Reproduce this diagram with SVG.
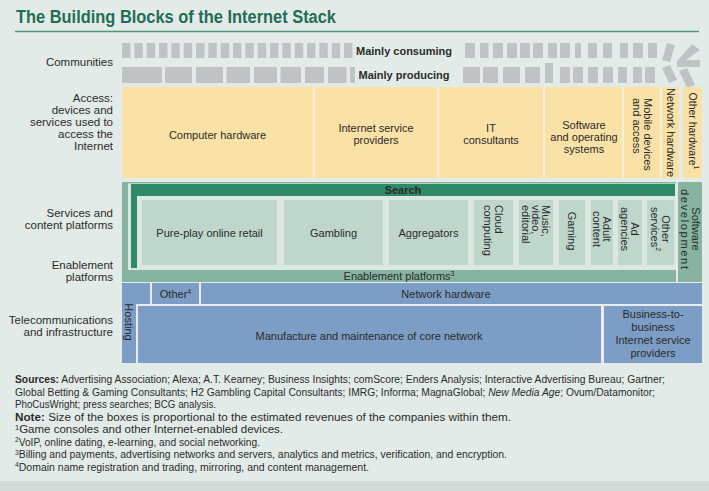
<svg xmlns="http://www.w3.org/2000/svg" width="709" height="491" viewBox="0 0 709 491">
<style>
text{font-family:"Liberation Sans",Arial,sans-serif;fill:#2b2b2b}
.lbl{font-size:11.5px;text-anchor:end}
.bx{font-size:11px;text-anchor:middle}
.bold{font-weight:bold}
.gray{fill:#bfc3c6}
.yel{fill:#fae2a6}
.mg{fill:#86b4a0}
.dg{fill:#2f8a67}
.lg{fill:#bed7ca}
.blue{fill:#7c9dc5}
.fn{font-size:10px}
</style>
<rect width="709" height="491" fill="#e3ebe8"/>
<rect y="481" width="709" height="10" fill="#d2dbd7"/>
<text x="16" y="23" font-size="17.5" font-weight="bold" style="fill:#1f6e55" textLength="320" lengthAdjust="spacingAndGlyphs">The Building Blocks of the Internet Stack</text>
<line x1="15" y1="31.5" x2="699" y2="31.5" stroke="#4f9478" stroke-width="1.5"/>

<g id="labels">
<text class="lbl" x="113" y="66">Communities</text>
<text class="lbl" x="113" y="102">Access:</text>
<text class="lbl" x="113" y="114">devices and</text>
<text class="lbl" x="113" y="126">services used to</text>
<text class="lbl" x="113" y="138">access the</text>
<text class="lbl" x="113" y="150">Internet</text>
<text class="lbl" x="113" y="217">Services and</text>
<text class="lbl" x="113" y="229">content platforms</text>
<text class="lbl" x="113" y="269">Enablement</text>
<text class="lbl" x="113" y="281">platforms</text>
<text class="lbl" x="113" y="324">Telecommunications</text>
<text class="lbl" x="113" y="336">and infrastructure</text>
</g>

<g id="communities-consuming">
<g class="gray">
<rect x="122" y="43" width="8.5" height="15"/><rect x="134.3" y="43" width="8.5" height="15"/><rect x="146.7" y="43" width="8.5" height="15"/><rect x="159" y="43" width="8.5" height="15"/><rect x="171.3" y="43" width="8.5" height="15"/><rect x="183.7" y="43" width="8.5" height="15"/><rect x="196" y="43" width="8.5" height="15"/><rect x="208.3" y="43" width="8.5" height="15"/><rect x="220.7" y="43" width="8.5" height="15"/><rect x="233" y="43" width="8.5" height="15"/><rect x="245.3" y="43" width="8.5" height="15"/><rect x="257.7" y="43" width="8.5" height="15"/><rect x="270" y="43" width="8.5" height="15"/><rect x="282.3" y="43" width="8.5" height="15"/><rect x="294.7" y="43" width="8.5" height="15"/><rect x="307" y="43" width="8.5" height="15"/><rect x="319.3" y="43" width="8.5" height="15"/><rect x="331.7" y="43" width="8.5" height="15"/><rect x="344" y="43" width="8.5" height="15"/>
<rect x="465" y="43" width="10" height="15"/><rect x="480" y="43" width="8.5" height="15"/><rect x="493" y="43" width="10" height="15"/><rect x="507" y="43" width="10" height="15"/><rect x="520" y="43" width="10" height="15"/><rect x="533" y="43" width="10" height="15"/><rect x="548" y="43" width="9" height="15"/><rect x="560" y="43" width="10" height="15"/><rect x="575" y="43" width="6" height="15"/><rect x="588" y="43" width="9" height="15"/><rect x="603" y="43" width="9" height="15"/><rect x="620" y="43" width="8" height="15"/><rect x="633" y="43" width="10" height="15"/><rect x="648" y="43" width="9" height="15"/>
</g>
<text class="bold" x="404" y="55" font-size="11" text-anchor="middle">Mainly consuming</text>
</g>

<g id="communities-producing">
<g class="gray">
<rect x="122" y="67" width="40" height="16"/><rect x="165" y="67" width="27" height="16"/><rect x="196" y="67" width="27" height="16"/><rect x="226.5" y="67" width="23.5" height="16"/><rect x="254" y="67" width="23" height="16"/><rect x="280.5" y="67" width="20.5" height="16"/><rect x="305" y="67" width="19" height="16"/><rect x="328" y="67" width="18.5" height="16"/><rect x="350" y="67" width="5" height="16"/>
<rect x="463" y="67" width="17" height="16"/><rect x="483" y="67" width="15" height="16"/><rect x="503" y="67" width="17" height="16"/><rect x="525" y="67" width="15" height="16"/><rect x="545" y="63" width="8" height="20"/><rect x="560" y="67" width="10" height="16"/><rect x="573" y="67" width="10" height="16"/><rect x="588" y="67" width="10" height="16"/><rect x="603" y="67" width="10" height="16"/><rect x="618" y="67" width="9" height="16"/><rect x="633" y="67" width="9" height="16"/><rect x="645" y="67" width="10" height="16"/>
</g>
<text class="bold" x="404" y="79" font-size="11" text-anchor="middle">Mainly producing</text>
</g>

<g id="community-arrow" class="gray">
<polygon points="667,43 675,45 670,62 662,60"/>
<polygon points="692,44 700,50 686,60 700,60 700,67 677,67 677,61"/>
<polygon points="662,68 670,65 677,80 669,83"/>
<polygon points="679,71 687,68 695,85 687,88"/>
</g>

<g id="access">
<rect x="122" y="87" width="557" height="91" fill="#f8efd8"/>
<g id="computer-hardware"><rect class="yel" x="122" y="87" width="191" height="91"/><text class="bx" x="217.5" y="139">Computer hardware</text></g>
<g id="isp"><rect class="yel" x="315" y="87" width="122" height="91"/><text class="bx" x="376" y="132">Internet service</text><text class="bx" x="376" y="144">providers</text></g>
<g id="it-consultants"><rect class="yel" x="439" y="87" width="104" height="91"/><text class="bx" x="491" y="132">IT</text><text class="bx" x="491" y="144">consultants</text></g>
<g id="software-os"><rect class="yel" x="545" y="87" width="77" height="91"/><text class="bx" x="584" y="129">Software</text><text class="bx" x="584" y="141">and operating</text><text class="bx" x="584" y="153">systems</text></g>
<g id="mobile"><rect class="yel" x="624" y="87" width="36" height="91"/><text font-size="11" transform="translate(642,98) rotate(90)" dominant-baseline="central"><tspan x="0" y="-5.5">Mobile devices</tspan><tspan x="0" y="5.5">and access</tspan></text></g>
<g id="network-hardware-access"><rect class="yel" x="662" y="87" width="17" height="91"/><text font-size="11" text-anchor="middle" dominant-baseline="central" transform="translate(670.5,132.5) rotate(90)">Network hardware</text></g>
<g id="other-hardware"><rect class="yel" x="683" y="87" width="19" height="91"/><text font-size="10.5" text-anchor="middle" dominant-baseline="central" transform="translate(692.5,131) rotate(90)">Other hardware<tspan font-size="7" dy="-4">1</tspan></text></g>
</g>

<g id="services">
<rect class="mg" x="122" y="182" width="554" height="100"/>
<rect x="128" y="183.5" width="548" height="86.5" fill="#dbe8e1"/>
<g id="search"><rect class="dg" x="131" y="184" width="544" height="12"/><rect class="dg" x="131" y="184" width="6" height="84"/><text class="bx bold" x="403" y="194">Search</text></g>
<g id="pure-play"><rect class="lg" x="142" y="200" width="135" height="65"/><text class="bx" x="209.5" y="237">Pure-play online retail</text></g>
<g id="gambling"><rect class="lg" x="284" y="200" width="99" height="65"/><text class="bx" x="333.5" y="237">Gambling</text></g>
<g id="aggregators"><rect class="lg" x="389" y="200" width="79" height="65"/><text class="bx" x="428.5" y="237">Aggregators</text></g>
<g id="cloud"><rect class="lg" x="474" y="200" width="39" height="65"/><text font-size="11" dominant-baseline="central" transform="translate(493.5,205) rotate(90)"><tspan x="0" y="-5.5">Cloud</tspan><tspan x="0" y="5.5">computing</tspan></text></g>
<g id="music"><rect class="lg" x="519" y="200" width="34" height="65"/><text font-size="11" dominant-baseline="central" transform="translate(536,205) rotate(90)"><tspan x="0" y="-10">Music,</tspan><tspan x="0" y="0">video,</tspan><tspan x="0" y="10">editorial</tspan></text></g>
<g id="gaming"><rect class="lg" x="559" y="200" width="26" height="65"/><text font-size="11" text-anchor="middle" dominant-baseline="central" transform="translate(572,231) rotate(90)">Gaming</text></g>
<g id="adult"><rect class="lg" x="591" y="200" width="22" height="65"/><text font-size="11" text-anchor="middle" dominant-baseline="central" transform="translate(602,229) rotate(90)"><tspan x="0" y="-5">Adult</tspan><tspan x="0" y="5">content</tspan></text></g>
<g id="ad-agencies"><rect class="lg" x="618" y="200" width="24" height="65"/><text font-size="11" text-anchor="middle" dominant-baseline="central" transform="translate(630,229) rotate(90)"><tspan x="0" y="-5">Ad</tspan><tspan x="0" y="5">agencies</tspan></text></g>
<g id="other-services"><rect class="lg" x="647" y="200" width="27" height="65"/><text font-size="11" text-anchor="middle" dominant-baseline="central" transform="translate(660.5,229) rotate(90)"><tspan x="0" y="-5.5">Other</tspan><tspan x="0" y="5.5">services<tspan font-size="7" dy="-4">2</tspan></tspan></text></g>
<g id="enablement"><text class="bx" x="399" y="280">Enablement platforms<tspan font-size="7" dy="-4">3</tspan></text></g>
</g>
<g id="software-development"><rect class="mg" x="678" y="182" width="24" height="100"/><text font-size="11" text-anchor="middle" dominant-baseline="central" transform="translate(690,229) rotate(90)"><tspan x="0" y="-5.5">Software</tspan><tspan x="0" y="5.5" textLength="80" lengthAdjust="spacing">development</tspan></text></g>

<g id="telecom">
<rect x="122" y="283" width="580" height="80" fill="#e9edf2"/>
<g id="hosting"><polygon class="blue" points="122,283 150,283 150,304 136,304 136,363 122,363"/><text font-size="11" text-anchor="middle" dominant-baseline="central" transform="translate(129,322) rotate(90)">Hosting</text></g>
<g id="other-infra"><rect class="blue" x="152" y="283" width="47" height="21"/><text class="bx" x="175.5" y="297.5">Other<tspan font-size="7" dy="-4">4</tspan></text></g>
<g id="network-hardware"><rect class="blue" x="201" y="283" width="501" height="21"/><text class="bx" x="446" y="298">Network hardware</text></g>
<g id="core-network"><rect class="blue" x="138" y="306" width="463" height="57"/><text class="bx" x="369" y="340">Manufacture and maintenance of core network</text></g>
<g id="b2b-isp"><rect class="blue" x="604" y="306" width="98" height="57"/><text class="bx" x="653" y="318">Business-to-</text><text class="bx" x="653" y="331">business</text><text class="bx" x="653" y="344">Internet service</text><text class="bx" x="653" y="357">providers</text></g>
</g>

<g id="footnotes" class="fn">
<text x="15" y="383" textLength="650" lengthAdjust="spacingAndGlyphs"><tspan font-weight="bold">Sources:</tspan> Advertising Association; Alexa; A.T. Kearney; Business Insights; comScore; Enders Analysis; Interactive Advertising Bureau; Gartner;</text>
<text x="15" y="395.5" textLength="640" lengthAdjust="spacingAndGlyphs">Global Betting &amp; Gaming Consultants; H2 Gambling Capital Consultants; IMRG; Informa; MagnaGlobal; <tspan font-style="italic">New Media Age</tspan>; Ovum/Datamonitor;</text>
<text x="15" y="408" textLength="201" lengthAdjust="spacingAndGlyphs">PhoCusWright; press searches; BCG analysis.</text>
<text x="15" y="420.5" textLength="496" lengthAdjust="spacingAndGlyphs"><tspan font-weight="bold">Note:</tspan> Size of the boxes is proportional to the estimated revenues of the companies within them.</text>
<text x="15" y="433" textLength="268" lengthAdjust="spacingAndGlyphs"><tspan font-size="6.5" dy="-3.5">1</tspan><tspan dy="3.5">Game consoles and other Internet-enabled devices.</tspan></text>
<text x="15" y="445.5" textLength="245" lengthAdjust="spacingAndGlyphs"><tspan font-size="6.5" dy="-3.5">2</tspan><tspan dy="3.5">VoIP, online dating, e-learning, and social networking.</tspan></text>
<text x="15" y="458" textLength="492" lengthAdjust="spacingAndGlyphs"><tspan font-size="6.5" dy="-3.5">3</tspan><tspan dy="3.5">Billing and payments, advertising networks and servers, analytics and metrics, verification, and encryption.</tspan></text>
<text x="15" y="470.5" textLength="354" lengthAdjust="spacingAndGlyphs"><tspan font-size="6.5" dy="-3.5">4</tspan><tspan dy="3.5">Domain name registration and trading, mirroring, and content management.</tspan></text>
</g>
</svg>
